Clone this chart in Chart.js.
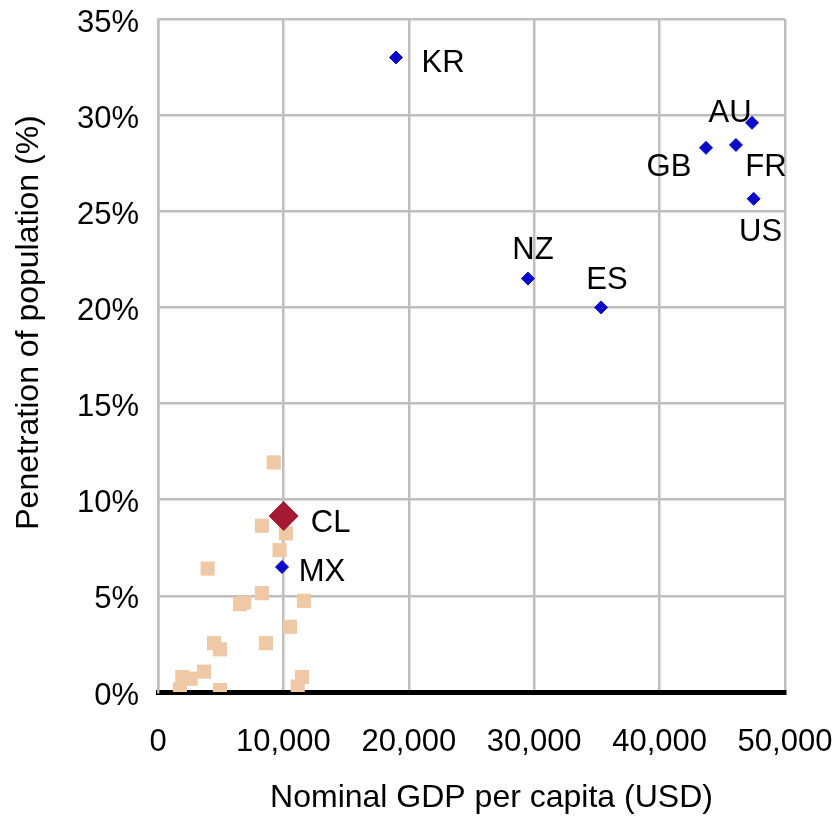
<!DOCTYPE html>
<html>
<head>
<meta charset="utf-8">
<script src="https://cdn.jsdelivr.net/npm/chart.js@4"></script>
<style>
html,body{margin:0;padding:0;background:#fff;}
#wrap{width:839px;height:820px;}
</style>
</head>
<body>
<div id="wrap"><canvas id="c" width="839" height="820"></canvas></div>
<script>
// ---- data ----
const xTickValues = [0, 10000, 20000, 30000, 40000, 50000];
const yTickValues = [0, 5, 10, 15, 20, 25, 30, 35];
const xAxisTitle = 'Nominal GDP per capita (USD)';
const yAxisTitle = 'Penetration of population (%)';

const countryCodes = ['KR', 'NZ', 'ES', 'GB', 'FR', 'AU', 'US', 'MX'];
const countryGdp   = [18980, 29500, 35330, 43700, 46090, 47370, 47500, 9890];
const countryPen   = [33.0, 21.5, 20.0, 28.3, 28.45, 29.6, 25.65, 6.5];

const chileCodes = ['CL'];
const chileGdp   = [10020];
const chilePen   = [9.15];

const otherGdp = [9230, 8290, 10210, 9700, 3960, 8290, 6540, 6880, 11640, 10530,
                  4470, 4940, 8610, 3670, 1940, 2600, 1750, 4940, 11480, 11140];
const otherPen = [11.94, 8.65, 8.25, 7.38, 6.42, 5.14, 4.57, 4.65, 4.74, 3.39,
                  2.54, 2.22, 2.54, 1.06, 0.78, 0.69, 0.14, 0.10, 0.78, 0.28];

// ---- styling ----
const FONT = '"Liberation Sans", Arial, Helvetica, sans-serif';
const labelOffsets = {
  KR: [47, 6], NZ: [5, -28], ES: [6, -27], AU: [-22, -9],
  GB: [-37, 20], FR: [30, 23], US: [7, 34], CL: [47, 7], MX: [40, 5]
};

function toPoints(xs, ys) { return xs.map((x, i) => ({ x: x, y: ys[i] })); }

const labelPlugin = {
  id: 'pointLabels',
  afterDatasetsDraw(chart) {
    const ctx = chart.ctx, xs = chart.scales.x, ys = chart.scales.y;
    ctx.save();
    ctx.font = '31px ' + FONT;
    ctx.fillStyle = '#000';
    ctx.textAlign = 'center';
    ctx.textBaseline = 'middle';
    const draw = (codes, gx, py) => codes.forEach((c, i) => {
      const o = labelOffsets[c] || [0, 0];
      ctx.fillText(c, xs.getPixelForValue(gx[i]) + o[0], ys.getPixelForValue(py[i]) + o[1]);
    });
    draw(countryCodes, countryGdp, countryPen);
    draw(chileCodes, chileGdp, chilePen);
    ctx.restore();
  }
};

// axis titles, placed where the reference puts them
const titlePlugin = {
  id: 'axisTitles',
  afterDraw(chart) {
    const ctx = chart.ctx, a = chart.chartArea;
    ctx.save();
    ctx.font = '32px ' + FONT;
    ctx.fillStyle = '#000';
    ctx.textAlign = 'center';
    ctx.textBaseline = 'middle';
    ctx.fillText(xAxisTitle, (a.left + a.right) / 2 + 20, a.bottom + 106);
    ctx.translate(29, (a.top + a.bottom) / 2 - 33);
    ctx.rotate(-Math.PI / 2);
    ctx.fillText(yAxisTitle, 0, 0);
    ctx.restore();
  }
};

const GRID = '#bebebe';

new Chart(document.getElementById('c'), {
  type: 'scatter',
  data: {
    datasets: [
      {
        label: 'Chile',
        data: toPoints(chileGdp, chilePen),
        pointStyle: 'rectRot',
        pointRadius: 14.5,
        backgroundColor: '#a31a32',
        borderColor: '#a31a32',
        borderWidth: 1
      },
      {
        label: 'Countries',
        data: toPoints(countryGdp, countryPen),
        pointStyle: 'rectRot',
        pointRadius: 6.5,
        backgroundColor: '#0a0ac8',
        borderColor: '#0a0ac8',
        borderWidth: 1
      },
      {
        label: 'Others',
        data: toPoints(otherGdp, otherPen),
        pointStyle: 'rect',
        pointRadius: 10,
        backgroundColor: '#efc9a5',
        borderColor: '#efc9a5',
        borderWidth: 0
      }
    ]
  },
  options: {
    responsive: false,
    animation: false,
    devicePixelRatio: 1,
    layout: { padding: { top: 19, right: 54, left: 0, bottom: 0 } },
    plugins: { legend: { display: false }, tooltip: { enabled: false } },
    scales: {
      x: {
        type: 'linear',
        min: 0, max: 50000,
        afterBuildTicks(scale) { scale.ticks = xTickValues.map(v => ({ value: v })); },
        afterFit(scale) { scale.height = 128; scale.paddingLeft = 0; scale.paddingRight = 0; },
        ticks: {
          color: '#000',
          font: { family: FONT, size: 31 },
          padding: 32,
          maxRotation: 0,
          callback: v => v.toLocaleString('en-US')
        },
        grid: { color: GRID, lineWidth: 2.5, drawTicks: false },
        border: { color: '#000', width: 5 },
        title: { display: false }
      },
      y: {
        type: 'linear',
        min: 0, max: 35,
        afterBuildTicks(scale) { scale.ticks = yTickValues.map(v => ({ value: v })); },
        afterFit(scale) { scale.width = 158; scale.paddingTop = 0; scale.paddingBottom = 0; },
        ticks: {
          color: '#000',
          font: { family: FONT, size: 31 },
          padding: 19,
          labelOffset: 4,
          callback: v => v + '%'
        },
        grid: { color: GRID, lineWidth: 2.5, drawTicks: false },
        border: { color: GRID, width: 2.5 },
        title: { display: false }
      }
    }
  },
  plugins: [labelPlugin, titlePlugin]
});
</script>
</body>
</html>
